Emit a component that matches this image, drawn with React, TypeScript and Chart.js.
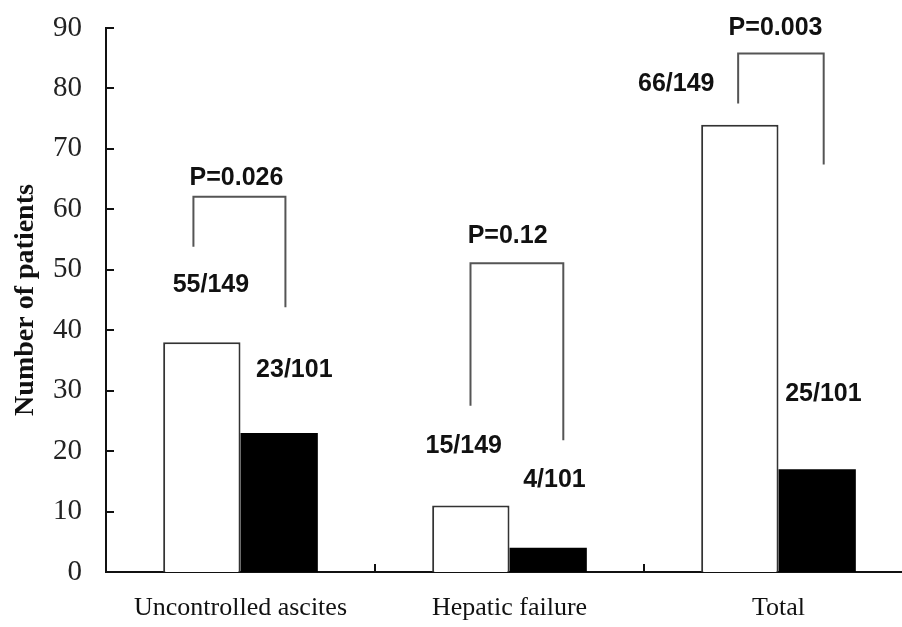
import React, { useEffect, useRef } from "react";
import { Chart, registerables } from "chart.js";

Chart.register(...registerables);

// ---- data ----
const categories = ["Uncontrolled ascites", "Hepatic failure", "Total"];
const groupAValues = [38, 11, 74]; // white bars
const groupBValues = [23, 4, 17]; // black bars
const groupALabels = ["55/149", "15/149", "66/149"];
const groupBLabels = ["23/101", "4/101", "25/101"];
const pValueLabels = ["P=0.026", "P=0.12", "P=0.003"];
const yMin = 0;
const yMax = 90;
const yStep = 10;

// ---- annotation layout (category offset in fractions of a category, y in data units) ----
const groupALabelPos = [
  [-0.11, 47.4],
  [-0.17, 20.8],
  [-0.38, 80.7],
];
const groupBLabelPos = [
  [0.2, 33.4],
  [0.167, 15.2],
  [0.167, 29.4],
];
const pLabelPos = [
  [-0.015, 65.2],
  [-0.007, 55.6],
  [-0.011, 90.0],
];
// [xLeft, xRight, yTop, yLeftBottom, yRightBottom]
const brackets = [
  [-0.175, 0.167, 62.1, 53.8, 43.8],
  [-0.145, 0.2, 51.1, 27.5, 21.8],
  [-0.15, 0.168, 85.8, 77.5, 67.4],
];

const annotationPlugin = {
  id: "annots",
  afterDraw(chart: any) {
    const ctx = chart.ctx;
    const xs = chart.scales.x;
    const ys = chart.scales.y;
    const catW = xs.getPixelForValue(1) - xs.getPixelForValue(0);
    const px = (c: number, off: number) => xs.getPixelForValue(c) + off * catW;
    const area = chart.chartArea;
    ctx.save();
    // inward ticks on y axis
    ctx.strokeStyle = "#111";
    ctx.lineWidth = 2;
    for (let v = yMin; v <= yMax; v += yStep) {
      const yy = Math.round(ys.getPixelForValue(v));
      ctx.beginPath();
      ctx.moveTo(area.left, yy);
      ctx.lineTo(area.left + 8, yy);
      ctx.stroke();
    }
    // inward ticks on x axis at category boundaries
    for (let i = 0; i <= categories.length; i++) {
      const xx = Math.round(px(i, -0.5));
      ctx.beginPath();
      ctx.moveTo(xx, area.bottom);
      ctx.lineTo(xx, area.bottom - 8);
      ctx.stroke();
    }
    // brackets
    ctx.strokeStyle = "#555";
    ctx.lineWidth = 2;
    brackets.forEach((b, i) => {
      const xl = px(i, b[0]);
      const xr = px(i, b[1]);
      const yt = ys.getPixelForValue(b[2]);
      const yl = ys.getPixelForValue(b[3]);
      const yr = ys.getPixelForValue(b[4]);
      ctx.beginPath();
      ctx.moveTo(xl, yl);
      ctx.lineTo(xl, yt);
      ctx.lineTo(xr, yt);
      ctx.lineTo(xr, yr);
      ctx.stroke();
    });
    // text labels
    ctx.fillStyle = "#111";
    ctx.font = "bold 25px 'Liberation Sans', Arial, sans-serif";
    ctx.textAlign = "center";
    ctx.textBaseline = "middle";
    const draw = (texts: string[], pos: number[][]) => {
      texts.forEach((t, i) => {
        ctx.fillText(t, px(i, pos[i][0]), ys.getPixelForValue(pos[i][1]));
      });
    };
    draw(groupALabels, groupALabelPos);
    draw(groupBLabels, groupBLabelPos);
    draw(pValueLabels, pLabelPos);
    ctx.restore();
  },
};

export default function App() {
  const ref = useRef<HTMLCanvasElement | null>(null);
  useEffect(() => {
    if (!ref.current) return;
    const chart = new Chart(ref.current, {
      type: "bar",
      data: {
        labels: categories,
        datasets: [
          {
            data: groupAValues,
            backgroundColor: "#ffffff",
            borderColor: "#333333",
            borderWidth: 2,
            categoryPercentage: 0.575,
            barPercentage: 1,
          },
          {
            data: groupBValues,
            backgroundColor: "#000000",
            borderColor: "#000000",
            borderWidth: 0,
            categoryPercentage: 0.575,
            barPercentage: 1,
          },
        ],
      },
      options: {
        responsive: false,
        animation: false,
        layout: { padding: { top: 28, right: 7, bottom: 0, left: 0 } },
        plugins: {
          legend: { display: false },
          tooltip: { enabled: false },
        },
        scales: {
          x: {
            type: "category",
            grid: { display: false, drawTicks: false },
            border: { display: true, color: "#111", width: 2 },
            ticks: {
              padding: 21,
              color: "#111",
              font: { family: "'Liberation Serif', 'Times New Roman', serif", size: 26 },
              maxRotation: 0,
            },
            afterFit(scale: any) {
              scale.height = 55;
              scale.paddingLeft = 0;
              scale.paddingRight = 0;
            },
          },
          y: {
            min: yMin,
            max: yMax,
            grid: { display: false, drawTicks: false },
            border: { display: true, color: "#111", width: 2 },
            ticks: {
              stepSize: yStep,
              padding: 24,
              color: "#222",
              font: { family: "'Liberation Serif', 'Times New Roman', serif", size: 29 },
            },
            title: {
              display: true,
              text: "Number of patients",
              color: "#111",
              padding: { top: 9, bottom: 0 },
              font: { family: "'Liberation Serif', 'Times New Roman', serif", size: 28, weight: "bold" },
            },
            afterFit(scale: any) {
              scale.width = 106;
              scale.paddingTop = 0;
              scale.paddingBottom = 0;
            },
          },
        },
      },
      plugins: [annotationPlugin],
    });
    return () => chart.destroy();
  }, []);
  return (
    <div style={{ position: "absolute", left: 0, top: 0, width: 902, height: 627, overflow: "hidden", background: "#fff" }}>
      <canvas ref={ref} width={920} height={627} style={{ width: 920, height: 627, display: "block" }} />
    </div>
  );
}
